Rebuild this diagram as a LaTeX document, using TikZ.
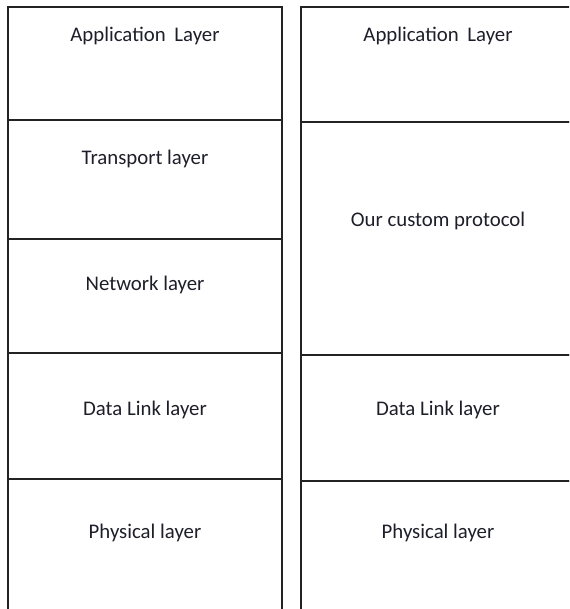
\documentclass[tikz,border=0pt]{standalone}
\usepackage{fontspec}
\setmainfont{Carlito}
\usepackage{tikz}
\usetikzlibrary{positioning}
\definecolor{ink}{RGB}{30,30,42}
\definecolor{rule}{RGB}{35,35,35}

\begin{document}
\begin{tikzpicture}[x=1pt,y=-1pt,
 layerbox/.style={draw=rule, line width=1.3pt, anchor=north west, minimum width=274pt, inner sep=0pt, outer sep=0pt},
 lbl/.style={font=\fontsize{20.8}{25}\selectfont, text=ink, anchor=base, inner sep=0pt}]
\clip (0,0) rectangle (569,609);
% left stack
\node[layerbox, minimum height=113pt] (lapp) at (8,7) {};
\node[layerbox, minimum height=119pt] (ltrans) at (8,120) {};
\node[layerbox, minimum height=114pt] (lnet) at (8,239) {};
\node[layerbox, minimum height=126pt] (llink) at (8,353) {};
\node[layerbox, minimum height=146pt] (lphys) at (8,479) {};
% right stack
\node[layerbox, minimum height=115pt] (rapp) at (301,7) {};
\node[layerbox, minimum height=233pt] (rcustom) at (301,122) {};
\node[layerbox, minimum height=126pt] (rlink) at (301,355) {};
\node[layerbox, minimum height=146pt] (rphys) at (301,481) {};
% labels
\node[lbl] (lappt) at (145,42) {Application\hspace{4pt} Layer};
\node[lbl] (ltranst) at (145,165) {Transport layer};
\node[lbl] (lnett) at (145,290) {Network layer};
\node[lbl] (llinkt) at (145,415) {Data Link layer};
\node[lbl] (lphyst) at (145,538) {Physical layer};
\node[lbl] (rappt) at (438,42) {Application\hspace{4pt} Layer};
\node[lbl] (rcustomt) at (438,226) {Our custom protocol};
\node[lbl] (rlinkt) at (438,415) {Data Link layer};
\node[lbl] (rphyst) at (438,538) {Physical layer};
\end{tikzpicture}
\end{document}
